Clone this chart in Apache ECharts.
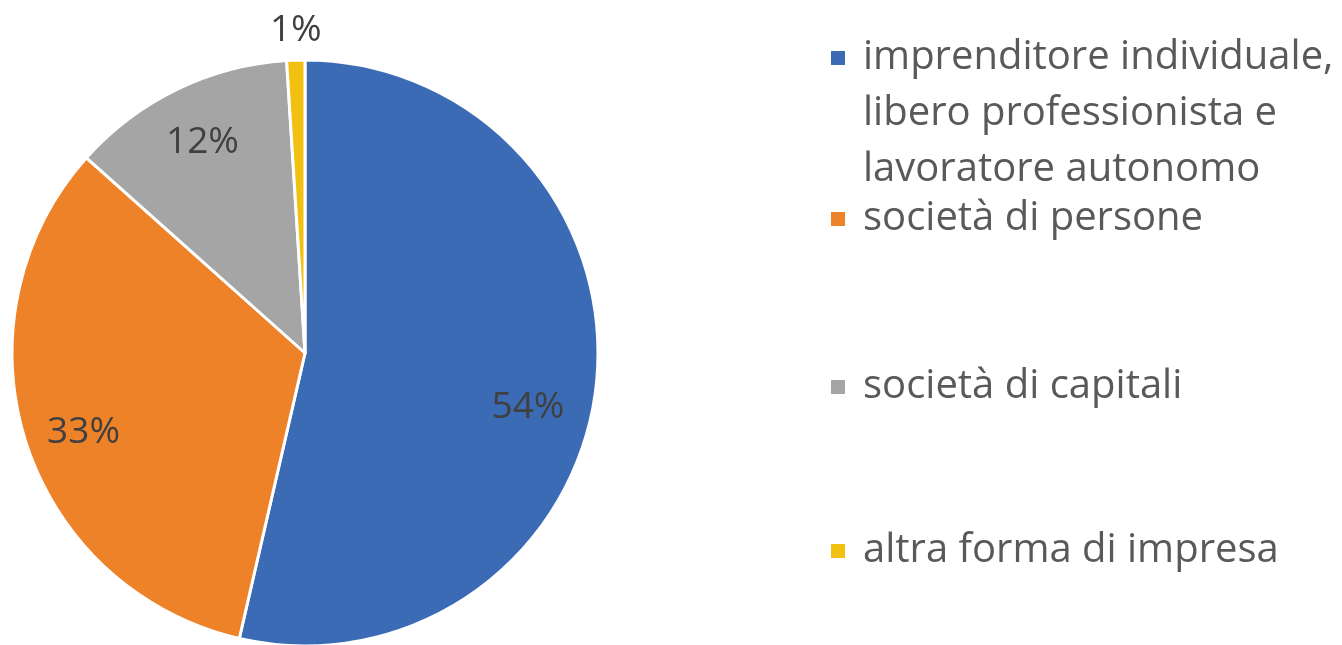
<!DOCTYPE html>
<html>
<head>
<meta charset="utf-8">
<script src="https://cdn.jsdelivr.net/npm/echarts@6/dist/echarts.min.js"></script>
<style>
  html, body { margin: 0; padding: 0; background: #ffffff; }
  #chart { width: 1342px; height: 645px; }
</style>
</head>
<body>
<div id="chart"></div>
<script>
const categories = [
  'imprenditore individuale, libero professionista e lavoratore autonomo',
  'società di persone',
  'società di capitali',
  'altra forma di impresa'
];
const values = [53.6, 33.0, 12.4, 1.0];
const colors = ['#3B6BB5', '#EE8228', '#A5A5A5', '#F2C010'];
// wrapped legend text (two empty lines on top keep the marker level with the first line)
const legendLines = {
  'imprenditore individuale, libero professionista e lavoratore autonomo':
    '\n\nimprenditore individuale,\nlibero professionista e\nlavoratore autonomo'
};

const FONT = 'Open Sans';
const data = categories.map((name, i) => ({ name: name, value: values[i] }));

const chart = echarts.init(document.getElementById('chart'), null, { renderer: 'canvas' });

const legendTops = [-87, 186, 354, 518];
const legends = categories.map((name, i) => ({
  data: [name],
  orient: 'vertical',
  left: 824,
  top: legendTops[i],
  icon: 'rect',
  itemWidth: 16,
  itemHeight: 16,
  selectedMode: false,
  formatter: n => legendLines[n] || n,
  textStyle: {
    fontFamily: FONT,
    fontSize: 40,
    color: '#595959',
    lineHeight: 56,
    padding: [0, 0, 0, 12]
  }
}));

const labelOffsets = [[-10, 28], [2, 8], [0, 0], [0, 0]];
const labelData = data.map((d, i) =>
  Object.assign({}, d, { label: { offset: labelOffsets[i] } }));

chart.setOption({
  animation: false,
  color: colors,
  legend: legends,
  series: [
    {
      type: 'pie',
      center: [305, 353],
      radius: [0, 293],
      startAngle: 90,
      clockwise: true,
      data: data,
      itemStyle: { borderColor: '#ffffff', borderWidth: 3 },
      label: { show: false },
      labelLine: { show: false },
      emphasis: { disabled: true }
    },
    {
      type: 'pie',
      center: [305, 353],
      radius: [170, 293],
      startAngle: 90,
      clockwise: true,
      silent: true,
      data: labelData,
      itemStyle: { color: 'rgba(0,0,0,0)', borderWidth: 0 },
      label: {
        show: true,
        position: 'inside',
        fontFamily: FONT,
        fontSize: 37,
        color: '#404040',
        formatter: p => Math.round(p.value) + '%'
      },
      labelLine: { show: false },
      labelLayout: function (params) {
        if (params.dataIndex === 3) {
          return {
            x: params.rect.x + params.rect.width / 2,
            y: params.rect.y - 30,
            align: 'center',
            verticalAlign: 'middle'
          };
        }
      },
      emphasis: { disabled: true }
    }
  ]
});
</script>
</body>
</html>
